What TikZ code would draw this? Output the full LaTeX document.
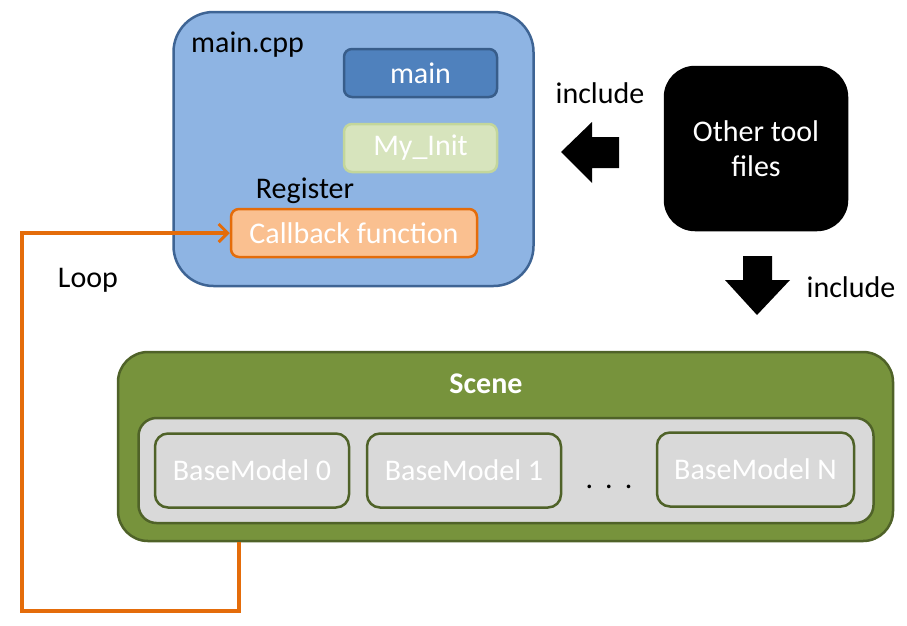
\documentclass[tikz,border=0pt]{standalone}
\usepackage{fontspec}
\setmainfont{Carlito}
\usetikzlibrary{arrows.meta}
\definecolor{cppfill}{HTML}{8EB4E3}
\definecolor{cppdraw}{HTML}{3E6494}
\definecolor{mainfill}{HTML}{4F81BD}
\definecolor{maindraw}{HTML}{385D8A}
\definecolor{initfill}{HTML}{D7E4BD}
\definecolor{initdraw}{HTML}{C3D69B}
\definecolor{cbfill}{HTML}{FAC090}
\definecolor{orng}{HTML}{E46C0A}
\definecolor{scenefill}{HTML}{77933C}
\definecolor{scenedraw}{HTML}{4F6228}
\definecolor{grayfill}{HTML}{D9D9D9}
\tikzset{
  txt/.style={font=\fontsize{30}{35}\selectfont, inner sep=0pt},
  box/.style={txt, line width=2.5pt, text=white, align=center},
  smallbox/.style={box, rounded corners=8pt, minimum width=153pt, minimum height=48pt},
  modelbox/.style={box, fill=grayfill, draw=scenedraw, rounded corners=13pt, minimum width=194pt, minimum height=74pt},
  looparrow/.style={draw=orng, line width=3.5pt, -{Straight Barb[length=9pt,width=18pt,line width=3pt]}},
  blockarrow/.style={fill=black, draw=none},
}
\begin{document}
\begin{tikzpicture}[x=1pt,y=-1pt]
\useasboundingbox (0,0) rectangle (907,625);
% main.cpp container
\node[box, fill=cppfill, draw=cppdraw, rounded corners=40pt, minimum width=360pt, minimum height=274pt] (cpp) at (353.5,149) {};
\node[txt, anchor=west] (cpplabel) at (191,45) {main.cpp};
\node[smallbox, fill=mainfill, draw=maindraw] (main) at (420.5,73) {main};
\node[smallbox, fill=initfill, draw=initdraw] (init) at (420.5,148) {My\_Init};
\node[txt] (register) at (305,191) {Register};
\node[smallbox, fill=cbfill, draw=orng, minimum width=246pt] (cb) at (354,233) {Callback function};
% other tool files
\node[box, fill=black, draw=black, rounded corners=30pt, minimum width=182pt, minimum height=163pt] (other) at (756,148.5) {Other tool\\files};
\node[txt] (inc1) at (600,93) {include};
\node[txt] (inc2) at (851,287) {include};
\fill[blockarrow] (561,152) -- (592,122) -- (592,137) -- (619,137) -- (619,168) -- (592,168) -- (592,183) -- cycle;
\fill[blockarrow] (743,256) -- (772,256) -- (772,280) -- (790,280) -- (757,315) -- (725,280) -- (743,280) -- cycle;
% scene
\node[box, fill=scenefill, draw=scenedraw, rounded corners=30pt, minimum width=775pt, minimum height=189pt] (scene) at (505.5,446.5) {};
\node[txt, text=white, font=\fontsize{30}{35}\selectfont\bfseries] (scenelabel) at (486,384) {Scene};
\node[box, fill=grayfill, draw=scenedraw, rounded corners=18pt, minimum width=735pt, minimum height=105pt] (models) at (506,470.5) {};
\node[modelbox] (bm0) at (252,470.5) {BaseModel 0};
\node[modelbox] (bm1) at (464,470.5) {BaseModel 1};
\node[modelbox, minimum width=197pt] (bmn) at (755.5,469.5) {BaseModel N};
\node[txt] (dots) at (609,487) {.\hspace{12pt}.\hspace{12pt}.};
% loop
\node[txt] (looplabel) at (88,280) {Loop};
\coordinate (lp1) at (239,611);
\coordinate (lp2) at (22,611);
\coordinate (lp3) at (22,234);
\draw[looparrow] (scene.south -| lp1) -- (lp1) -- (lp2) -- (lp3 |- cb.west) -- (cb.west);
\end{tikzpicture}
\end{document}
